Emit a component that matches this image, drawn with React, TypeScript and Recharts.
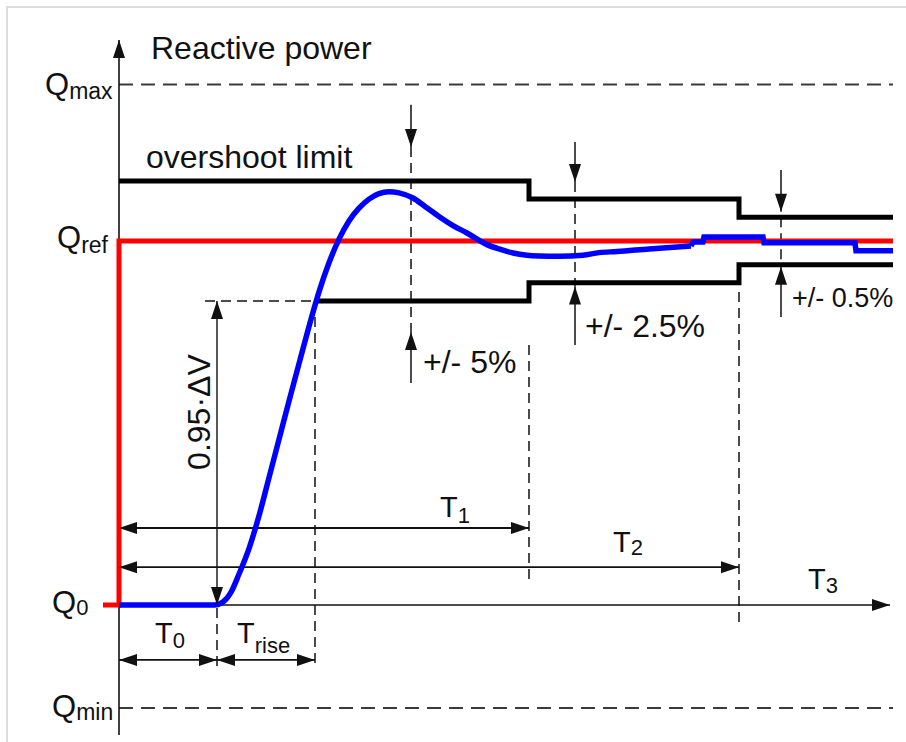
import React from 'react';
import { ComposedChart, Line, XAxis, YAxis, ReferenceDot } from 'recharts';

// units: t = time (1 unit = 20 px), q = reactive power in % of step (Q0 = 0, Qref = 100)
const T_DOMAIN: [number, number] = [-5.95, 39.35];
const Q_DOMAIN: [number, number] = [-37.64, 166.2];

const Q_MAX = 143;
const Q_MIN = -28.3;
const Q_REF = 100;
const T_END = 38.7;
const T_0 = 4.9;
const T_RISE = 9.8;
const T_1 = 20.5;
const T_2 = 31;

const refSignal = [
  { t: -0.8, q: 0 },
  { t: 0, q: 0 },
  { t: 0, q: Q_REF },
  { t: T_END, q: Q_REF },
];

// smooth part of the response
const responseSmooth = [
  { t: 0, q: 0 }, { t: 4.8, q: 0 }, { t: 5.2, q: 0.8 }, { t: 5.6, q: 3.5 },
  { t: 6.0, q: 8.5 }, { t: 6.5, q: 15.5 }, { t: 7.0, q: 24.5 }, { t: 7.5, q: 35 },
  { t: 8.0, q: 45.5 }, { t: 8.5, q: 56 }, { t: 9.0, q: 66.3 }, { t: 9.5, q: 76.5 },
  { t: 10.0, q: 86 }, { t: 10.5, q: 94 }, { t: 11.0, q: 100.5 }, { t: 11.5, q: 105.5 },
  { t: 12.0, q: 109 }, { t: 12.5, q: 111.5 }, { t: 13.0, q: 113 }, { t: 13.5, q: 113.5 },
  { t: 14.0, q: 113.2 }, { t: 14.7, q: 111.8 }, { t: 15.3, q: 109.5 }, { t: 16.0, q: 106.7 },
  { t: 16.7, q: 104.2 }, { t: 17.4, q: 102.2 }, { t: 18.4, q: 99 }, { t: 19.0, q: 97.8 },
  { t: 19.7, q: 96.7 }, { t: 20.4, q: 96.1 }, { t: 21.0, q: 95.9 }, { t: 22.0, q: 95.8 },
  { t: 23.2, q: 96.1 }, { t: 24.0, q: 96.8 }, { t: 24.9, q: 97.1 }, { t: 26.5, q: 97.8 },
  { t: 28.6, q: 98.6 },
];

// stepped tail of the response
const responseSteps = [
  { t: 28.6, q: 98.6 }, { t: 28.7, q: 99.7 }, { t: 29.2, q: 99.7 }, { t: 29.25, q: 101.1 },
  { t: 32.2, q: 101.1 }, { t: 32.25, q: 99.5 }, { t: 36.8, q: 99.5 }, { t: 36.85, q: 97.3 },
  { t: T_END, q: 97.3 },
];

const bandWidths = [16.5, 11.5, 6.5];

const upperLimit = [
  { t: 0, q: Q_REF + bandWidths[0] }, { t: T_1, q: Q_REF + bandWidths[0] },
  { t: T_1, q: Q_REF + bandWidths[1] }, { t: T_2, q: Q_REF + bandWidths[1] },
  { t: T_2, q: Q_REF + bandWidths[2] }, { t: T_END, q: Q_REF + bandWidths[2] },
];

const lowerLimit = [
  { t: T_RISE, q: Q_REF - bandWidths[0] }, { t: T_1, q: Q_REF - bandWidths[0] },
  { t: T_1, q: Q_REF - bandWidths[1] }, { t: T_2, q: Q_REF - bandWidths[1] },
  { t: T_2, q: Q_REF - bandWidths[2] }, { t: T_END, q: Q_REF - bandWidths[2] },
];

const limitLines = [
  [{ t: 0, q: Q_MAX }, { t: T_END, q: Q_MAX }],
  [{ t: 0, q: Q_MIN }, { t: T_END, q: Q_MIN }],
];

const dashedGuides = [
  [{ t: T_0, q: -0.8 }, { t: T_0, q: -17.3 }],
  [{ t: T_RISE, q: 83.5 }, { t: T_RISE, q: -17.3 }],
  [{ t: 4.3, q: 83.5 }, { t: T_RISE, q: 83.5 }],
  [{ t: 14.6, q: 125.8 }, { t: 14.6, q: 75 }],
  [{ t: T_1, q: 71.4 }, { t: T_1, q: 6.9 }],
  [{ t: 22.8, q: 116.2 }, { t: 22.8, q: 87.5 }],
  [{ t: T_2, q: 86 }, { t: T_2, q: -4.7 }],
  [{ t: 33.1, q: 106.5 }, { t: 33.1, q: 93.5 }],
];

const arrows = [
  { w: 1.6, pts: [{ t: 0, q: -35.7 }, { t: 0, q: 155.2, head: 'up' }] },
  { w: 1.6, pts: [{ t: 0, q: 0 }, { t: 38.55, q: 0, head: 'right' }] },
  { w: 1.4, pts: [{ t: T_0, q: 83.5, head: 'up' }, { t: T_0, q: 0, head: 'down' }] },
  { w: 1.8, pts: [{ t: 0, q: -15.1, head: 'left' }, { t: T_0, q: -15.1, head: 'right' }] },
  { w: 1.8, pts: [{ t: T_0, q: -15.1, head: 'left' }, { t: T_RISE, q: -15.1, head: 'right' }] },
  { w: 1.8, pts: [{ t: 0, q: 21.15, head: 'left' }, { t: T_1, q: 21.15, head: 'right' }] },
  { w: 1.8, pts: [{ t: 0, q: 10.4, head: 'left' }, { t: T_2, q: 10.4, head: 'right' }] },
  { w: 1.5, pts: [{ t: 14.6, q: 137.4 }, { t: 14.6, q: 125.8, head: 'down' }] },
  { w: 1.5, pts: [{ t: 14.6, q: 61 }, { t: 14.6, q: 75, head: 'up' }] },
  { w: 1.5, pts: [{ t: 22.8, q: 127.2 }, { t: 22.8, q: 116.2, head: 'down' }] },
  { w: 1.5, pts: [{ t: 22.8, q: 71.4 }, { t: 22.8, q: 87.5, head: 'up' }] },
  { w: 1.5, pts: [{ t: 33.1, q: 119.5 }, { t: 33.1, q: 108, head: 'down' }] },
  { w: 1.5, pts: [{ t: 33.1, q: 79.1 }, { t: 33.1, q: 92.9, head: 'up' }] },
];

const plainLabels = [
  { t: 1.6, q: 150, text: 'Reactive power', size: 32 },
  { t: 1.35, q: 120, text: 'overshoot limit', size: 32 },
  { t: 15.2, q: 63.7, text: '+/- 5%', size: 32 },
  { t: 23.3, q: 73.6, text: '+/- 2.5%', size: 32 },
  { t: 33.65, q: 81.9, text: '+/- 0.5%', size: 27 },
];

const subLabels = [
  { t: -3.7, q: 140.1, main: 'Q', sub: 'max', size: 31, subSize: 23, dy: 4 },
  { t: -3.1, q: 98.1, main: 'Q', sub: 'ref', size: 31, subSize: 23, dy: 5 },
  { t: -3.35, q: -2.2, main: 'Q', sub: '0', size: 31, subSize: 22, dy: 2 },
  { t: -3.35, q: -30.8, main: 'Q', sub: 'min', size: 31, subSize: 23, dy: 3 },
  { t: 1.8, q: -10.4, main: 'T', sub: '0', size: 29, subSize: 22, dy: 5 },
  { t: 5.9, q: -10.4, main: 'T', sub: 'rise', size: 29, subSize: 22, dy: 10 },
  { t: 16.05, q: 24.2, main: 'T', sub: '1', size: 29, subSize: 22, dy: 6 },
  { t: 24.7, q: 14.6, main: 'T', sub: '2', size: 29, subSize: 22, dy: 3 },
  { t: 34.45, q: 4.4, main: 'T', sub: '3', size: 29, subSize: 22, dy: 4 },
];

const deltaLabel = { t: 4.55, q: 53, text: '0.95·ΔV' };

const FONT = "'Liberation Sans', Arial, Helvetica, sans-serif";
const INK = '#111';

const ArrowHead = (p: any) => {
  const { cx, cy, payload, index } = p;
  const key = `h-${index}`;
  if (!payload || !payload.head || cx == null || cy == null) return <g key={key} />;
  const L = 18;
  const W = 6;
  let d = '';
  if (payload.head === 'up') d = `M${cx},${cy} L${cx - W},${cy + L} L${cx + W},${cy + L} Z`;
  if (payload.head === 'down') d = `M${cx},${cy} L${cx - W},${cy - L} L${cx + W},${cy - L} Z`;
  if (payload.head === 'right') d = `M${cx},${cy} L${cx - L},${cy - W} L${cx - L},${cy + W} Z`;
  if (payload.head === 'left') d = `M${cx},${cy} L${cx + L},${cy - W} L${cx + L},${cy + W} Z`;
  return <path key={key} d={d} fill={INK} stroke="none" />;
};

export default function App() {
  return (
    <div style={{ position: 'relative', width: 906, height: 742, background: '#fff', overflow: 'hidden' }}>
      <style>{'body{margin:0;background:#fff}'}</style>
      <div style={{ position: 'absolute', left: 6, top: 6, right: 0, bottom: 0, borderLeft: '2px solid #dcdcdc', borderTop: '2px solid #dcdcdc' }} />
      <div style={{ position: 'absolute', left: 0, top: 0 }}>
        <ComposedChart width={906} height={742} margin={{ top: 0, right: 0, bottom: 0, left: 0 }}>
          <XAxis type="number" dataKey="t" domain={T_DOMAIN} allowDataOverflow hide />
          <YAxis type="number" dataKey="q" domain={Q_DOMAIN} allowDataOverflow hide />

          {limitLines.map((seg, i) => (
            <Line key={`lim-${i}`} data={seg} dataKey="q" type="linear" stroke="#3a3a3a" strokeWidth={2}
              strokeDasharray="14 8" dot={false} activeDot={false} isAnimationActive={false} legendType="none" />
          ))}
          {dashedGuides.map((seg, i) => (
            <Line key={`g-${i}`} data={seg} dataKey="q" type="linear" stroke={INK} strokeWidth={1.5}
              strokeDasharray="10 6" dot={false} activeDot={false} isAnimationActive={false} legendType="none" />
          ))}
          {arrows.map((a, i) => (
            <Line key={`a-${i}`} data={a.pts} dataKey="q" type="linear" stroke={INK} strokeWidth={a.w}
              dot={ArrowHead} activeDot={false} isAnimationActive={false} legendType="none" />
          ))}

          <Line data={upperLimit} dataKey="q" type="linear" stroke="#000" strokeWidth={5} strokeLinejoin="miter"
            dot={false} activeDot={false} isAnimationActive={false} legendType="none" />
          <Line data={lowerLimit} dataKey="q" type="linear" stroke="#000" strokeWidth={5} strokeLinejoin="miter"
            dot={false} activeDot={false} isAnimationActive={false} legendType="none" />
          <Line data={refSignal} dataKey="q" type="linear" stroke="#ff0000" strokeWidth={5} strokeLinejoin="miter"
            dot={false} activeDot={false} isAnimationActive={false} legendType="none" />
          <Line data={responseSmooth} dataKey="q" type="monotone" stroke="#0000ff" strokeWidth={5.5}
            dot={false} activeDot={false} isAnimationActive={false} legendType="none" />
          <Line data={responseSteps} dataKey="q" type="linear" stroke="#0000ff" strokeWidth={5.5}
            dot={false} activeDot={false} isAnimationActive={false} legendType="none" />

          {plainLabels.map((l, i) => (
            <ReferenceDot key={`pl-${i}`} x={l.t} y={l.q} r={0} isFront
              shape={(p: any) => (
                <text x={p.cx} y={p.cy} fontFamily={FONT} fontSize={l.size} fill={INK}>{l.text}</text>
              )} />
          ))}
          {subLabels.map((l, i) => (
            <ReferenceDot key={`sl-${i}`} x={l.t} y={l.q} r={0} isFront
              shape={(p: any) => (
                <text x={p.cx} y={p.cy} fontFamily={FONT} fontSize={l.size} fill={INK}>
                  <tspan>{l.main}</tspan>
                  <tspan fontSize={l.subSize} dy={l.dy}>{l.sub}</tspan>
                </text>
              )} />
          ))}
          <ReferenceDot x={deltaLabel.t} y={deltaLabel.q} r={0} isFront
            shape={(p: any) => (
              <text x={p.cx} y={p.cy} transform={`rotate(-90 ${p.cx} ${p.cy})`} textAnchor="middle"
                fontFamily={FONT} fontSize={32} fill={INK}>{deltaLabel.text}</text>
            )} />
        </ComposedChart>
      </div>
    </div>
  );
}
